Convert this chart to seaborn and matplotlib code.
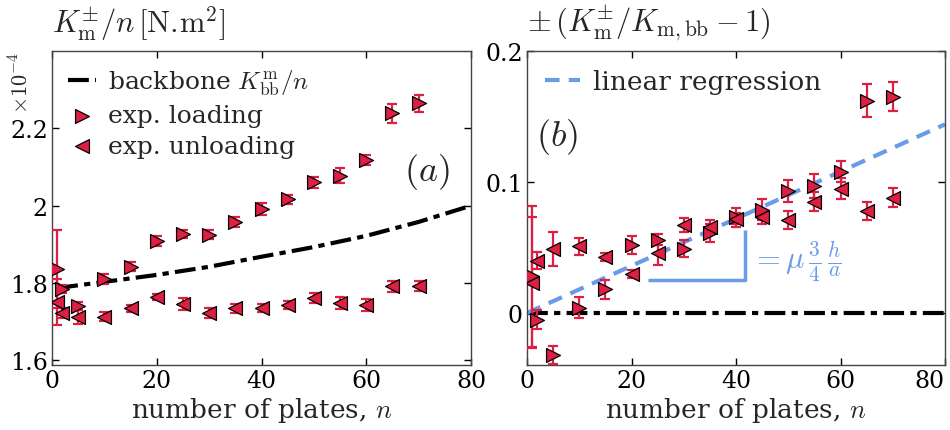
import numpy as np
import pandas as pd
import matplotlib
matplotlib.use("Agg")
import matplotlib.pyplot as plt
import seaborn as sns

# ---------------- data ----------------
n_plates = [1, 2, 5, 10, 15, 20, 25, 30, 35, 40, 45, 50, 55, 60, 65, 70]

# panel (a): K/n  (x 1e-4 N.m^2)
load_a = [1.836, 1.784, 1.740, 1.810, 1.842, 1.909, 1.927, 1.925, 1.958, 1.992,
          2.016, 2.060, 2.078, 2.117, 2.239, 2.265]
load_a_err = [0.100, 0.010, 0.011, 0.013, 0.012, 0.012, 0.010, 0.012, 0.012, 0.015,
              0.012, 0.015, 0.019, 0.013, 0.024, 0.022]
unload_a = [1.751, 1.722, 1.712, 1.713, 1.735, 1.764, 1.745, 1.722, 1.735, 1.735,
            1.743, 1.761, 1.748, 1.743, 1.792, 1.792]
unload_a_err = [0.060, 0.013, 0.017, 0.011, 0.009, 0.008, 0.015, 0.013, 0.012, 0.011,
                0.011, 0.012, 0.015, 0.016, 0.014, 0.013]
backbone_n = [1, 10, 20, 30, 40, 50, 60, 70, 80]
backbone_a = [1.787, 1.803, 1.821, 1.842, 1.868, 1.893, 1.922, 1.958, 2.000]

# panel (b): relative deviation
load_b = [0.028, -0.005, -0.032, 0.004, 0.018, 0.052, 0.056, 0.049, 0.061, 0.073,
          0.079, 0.093, 0.097, 0.108, 0.162, 0.165]
load_b_err = [0.054, 0.007, 0.007, 0.008, 0.0075, 0.007, 0.004, 0.0065, 0.007, 0.0075,
              0.008, 0.0085, 0.009, 0.008, 0.0125, 0.011]
unload_b = [0.023, 0.040, 0.049, 0.051, 0.043, 0.030, 0.046, 0.067, 0.066, 0.072,
            0.073, 0.071, 0.085, 0.095, 0.078, 0.088]
unload_b_err = [0.050, 0.0065, 0.013, 0.0065, 0.003, 0.003, 0.0095, 0.0055, 0.005, 0.004,
                0.005, 0.0066, 0.0075, 0.008, 0.007, 0.0073]
zero_n = [0, 80]
zero_b = [0.0, 0.0]
regress_n = [0, 80]
regress_b = [0.0, 0.144]

# ---------------- style ----------------
sns.set_theme(style="ticks")
plt.rcParams["font.family"] = ["DejaVu Serif"]
plt.rcParams["mathtext.fontset"] = "cm"
plt.rcParams["axes.edgecolor"] = "#444444"
plt.rcParams["axes.linewidth"] = 1.0

RED = "#dc1f43"
BLUE = "#6a9be8"
FS = 17

fig = plt.figure(figsize=(9.5, 4.31), dpi=100)
axA = fig.add_axes([52 / 950, 1 - 366 / 431, 419 / 950, 314 / 431])
axB = fig.add_axes([527 / 950, 1 - 366 / 431, 418 / 950, 314 / 431])

dfA = pd.DataFrame({"n": n_plates, "load": load_a, "unload": unload_a})
dfB = pd.DataFrame({"n": n_plates, "load": load_b, "unload": unload_b})


def draw_points(ax, df, lerr, uerr):
    ax.errorbar(df["n"], df["load"], yerr=lerr, fmt="none", ecolor=RED,
                elinewidth=1.6, capsize=3.5, capthick=1.6, zorder=3)
    ax.errorbar(df["n"], df["unload"], yerr=uerr, fmt="none", ecolor=RED,
                elinewidth=1.6, capsize=3.5, capthick=1.6, zorder=3)
    sns.scatterplot(data=df, x="n", y="load", marker=">", s=100, color=RED,
                    edgecolor="black", linewidth=0.9, ax=ax, zorder=4,
                    label="exp. loading")
    sns.scatterplot(data=df, x="n", y="unload", marker="<", s=100, color=RED,
                    edgecolor="black", linewidth=0.9, ax=ax, zorder=4,
                    label="exp. unloading")


# ----- panel (a)
sns.lineplot(x=backbone_n, y=backbone_a, ax=axA, color="black", lw=3,
             linestyle=(0, (5, 1.5, 1.5, 1.5)), label=r"backbone $K^{\rm m}_{\rm bb}/n$",
             zorder=2)
draw_points(axA, dfA, load_a_err, unload_a_err)
axA.set_xlim(0, 80)
axA.set_ylim(1.588, 2.4)
axA.set_xticks([0, 20, 40, 60, 80])
axA.set_yticks([1.6, 1.8, 2.0, 2.2])
axA.set_yticklabels(["1.6", "1.8", "2", "2.2"])
axA.set_xlabel(r"number of plates, $n$", fontsize=FS + 2, labelpad=2)
axA.set_ylabel("")
axA.text(0.0, 1.03, r"$K^{\pm}_{\rm m}/n\,[\mathrm{N.\!m}^2]$", transform=axA.transAxes,
         fontsize=FS + 5, ha="left", va="bottom")
axA.text(-0.045, 1.0, r"$\times10^{-4}$", transform=axA.transAxes, rotation=90,
         fontsize=FS - 1, ha="right", va="top")
axA.text(71.6, 2.09, r"$(a)$", fontsize=FS + 9, ha="center", va="center")
axA.legend(loc="upper left", frameon=False, fontsize=FS + 1,
           handlelength=1.1, handletextpad=0.5, borderaxespad=0.25,
           labelspacing=0.3)

# ----- panel (b)
sns.lineplot(x=zero_n, y=zero_b, ax=axB, color="black", lw=3,
             linestyle=(0, (5, 1.5, 1.5, 1.5)), zorder=2, legend=False)
sns.lineplot(x=regress_n, y=regress_b, ax=axB, color=BLUE, lw=3,
             linestyle=(0, (3.5, 2.2)), label="linear regression", zorder=2)
draw_points(axB, dfB, load_b_err, unload_b_err)
# slope triangle annotation
axB.plot([23.1, 41.7, 41.7], [0.0252, 0.0252, 0.0636], color=BLUE, lw=2.5,
         solid_capstyle="butt", zorder=2)
axB.text(42.8, 0.040, r"$=\mu\,\frac{3}{4}\,\frac{h}{a}$", color=BLUE,
         fontsize=FS + 5, ha="left", va="center")
axB.set_xlim(0, 80)
axB.set_ylim(-0.0397, 0.2)
axB.set_xticks([0, 20, 40, 60, 80])
axB.set_yticks([0, 0.1, 0.2])
axB.set_yticklabels(["0", "0.1", "0.2"])
axB.set_xlabel(r"number of plates, $n$", fontsize=FS + 2, labelpad=2)
axB.set_ylabel("")
axB.text(0.0, 1.03, r"$\pm\,(K^{\pm}_{\rm m}/K_{\rm m,bb}-1)$", transform=axB.transAxes,
         fontsize=FS + 5, ha="left", va="bottom")
axB.text(5.7, 0.135, r"$(b)$", fontsize=FS + 9, ha="center", va="center")
handles, labels = axB.get_legend_handles_labels()
keep = [i for i, l in enumerate(labels) if l == "linear regression"]
axB.legend([handles[i] for i in keep], [labels[i] for i in keep], loc="upper left",
           frameon=False, fontsize=FS + 2, handlelength=1.3, handletextpad=0.5,
           borderaxespad=0.3)

for ax in (axA, axB):
    ax.tick_params(direction="in", top=True, right=True, length=5, width=1,
                   labelsize=FS, pad=3, colors="black")
    for sp in ax.spines.values():
        sp.set_visible(True)
        sp.set_color("#444444")

# keep the last x tick label of panel (b) inside the canvas
fig.canvas.draw()
axB.get_xticklabels()[-1].set_horizontalalignment("right")

fig.savefig("out.png", dpi=100)
